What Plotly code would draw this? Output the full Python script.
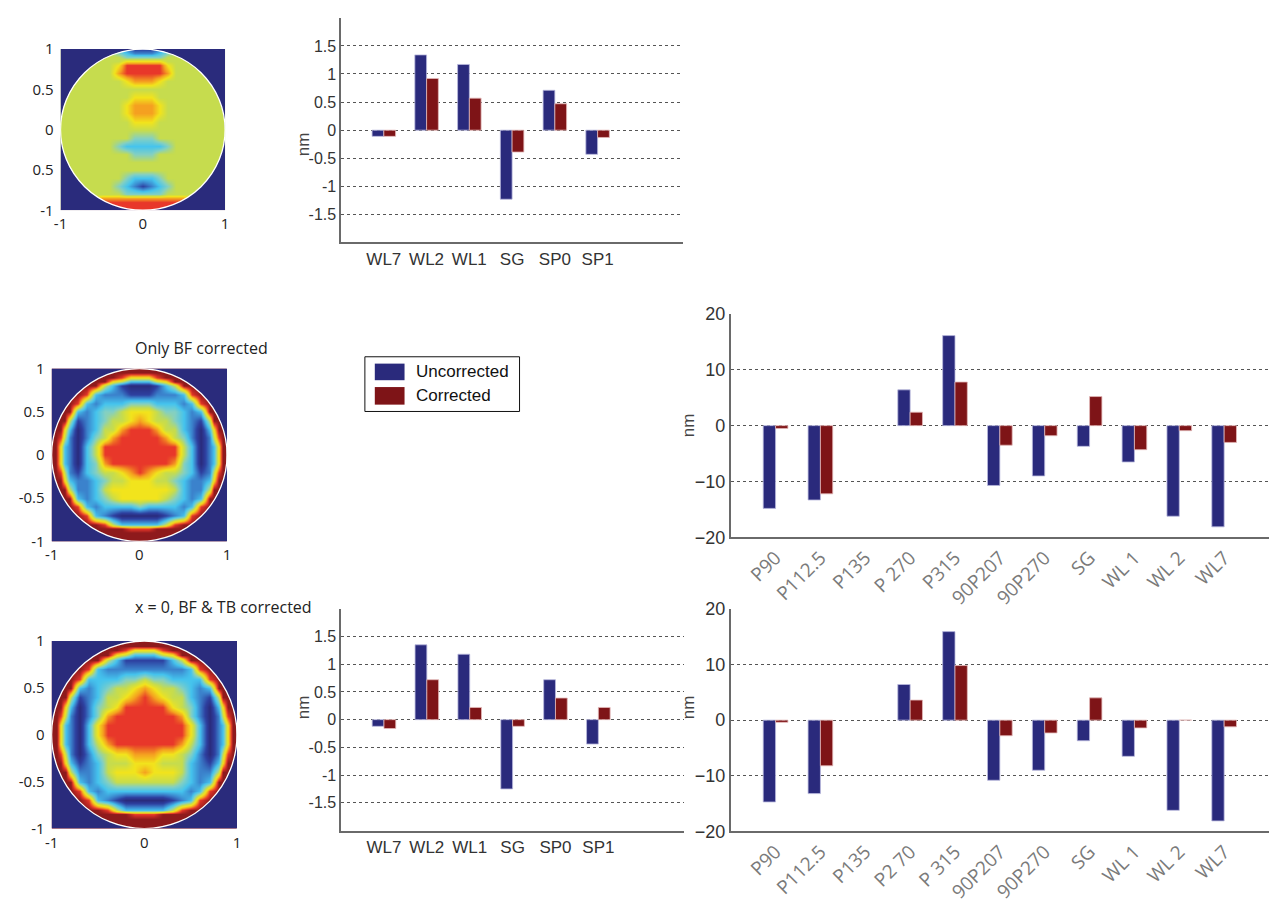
import plotly.graph_objects as go

W, H = 1274, 904

# ---------------- data ----------------
small_cats = ["WL7", "WL2", "WL1", "SG", "SP0", "SP1"]
top_uncorrected = [-0.11, 1.34, 1.17, -1.23, 0.71, -0.43]
top_corrected = [-0.11, 0.92, 0.57, -0.39, 0.47, -0.13]
mid_uncorrected = [-0.12, 1.35, 1.18, -1.25, 0.72, -0.44]
mid_corrected = [-0.16, 0.72, 0.22, -0.12, 0.39, 0.22]

big_labels_top = ["P90", "P112.5", "P135", "P 270", "P315", "90P207", "90P270", "SG", "WL 1", "WL 2", "WL7"]
big_labels_bot = ["P90", "P112.5", "P135", "P2 70", "P 315", "90P207", "90P270", "SG", "WL 1", "WL 2", "WL7"]
rt_uncorrected = [-14.8, -13.3, None, 6.4, 16.1, -10.7, -9.0, -3.7, -6.5, -16.2, -18.1]
rt_corrected = [-0.5, -12.2, None, 2.4, 7.8, -3.5, -1.8, 5.2, -4.3, -0.9, -3.0]
rb_uncorrected = [-14.7, -13.2, None, 6.4, 15.9, -10.8, -9.0, -3.7, -6.5, -16.2, -18.1]
rb_corrected = [-0.4, -8.2, None, 3.6, 9.8, -2.8, -2.3, 4.0, -1.4, 0.0, -1.2]

small_ticks = [-1.5, -1, -0.5, 0, 0.5, 1, 1.5]
small_ticktext = ["-1.5", "-1", "-0.5", "0", "0.5", "1", "1.5"]
big_ticks = [-20, -10, 0, 10, 20]

# wavefront maps on a coarse grid (denser near the rim);
# rows go from y = 1 (top) to y = -1 (bottom); level 0 (navy) .. 9 (dark red)
grid_coords = [-1, -0.95, -0.9, -0.85, -0.8, -0.7, -0.6, -0.5, -0.4, -0.3, -0.2, -0.1, 0,
               0.1, 0.2, 0.3, 0.4, 0.5, 0.6, 0.7, 0.8, 0.85, 0.9, 0.95, 1]
map1_rows = [
    "55555 5554321 1 1234555 55555",
    "55555 5555432 2 2345555 55555",
    "55555 5555544 4 4455555 55555",
    "55555 5555566 6 6655555 55555",
    "55555 5555688 8 8865555 55555",
    "55555 5555788 8 8875555 55555",
    "55555 5555567 7 7655555 55555",
    "55555 5555555 5 5555555 55555",
    "55555 5555556 6 6555555 55555",
    "55555 5555567 7 7655555 55555",
    "55555 5555567 7 7655555 55555",
    "55555 5555556 6 6555555 55555",
    "55555 5555555 5 5555555 55555",
    "55555 5555554 4 4555555 55555",
    "55555 5555433 3 3345555 55555",
    "55555 5555554 4 4555555 55555",
    "55555 5555555 5 5555555 55555",
    "55555 5555555 5 5555555 55555",
    "55555 5555543 3 3455555 55555",
    "55555 5555432 1 2345555 55555",
    "55555 5555544 4 4455555 55555",
    "55555 5577777 7 7777755 55555",
    "55555 8888888 8 8888888 55555",
    "55555 8888888 8 8888888 55555",
    "88888 8888888 8 8888888 88888",
]
map2_rows = [
    "99999 9999999 9 9999999 99999",
    "99999 9999999 9 9999999 99999",
    "99999 9999986 6 6899999 99999",
    "99999 9999653 3 3569999 99999",
    "99999 9995310 0 0135999 99999",
    "99999 9832221 1 1222389 99999",
    "99999 8323334 4 4333238 99999",
    "99999 3234456 6 6544323 99999",
    "99995 1234556 7 6554321 59999",
    "99963 0235578 8 8755320 36999",
    "99852 0245788 8 8875420 25899",
    "99632 0358888 8 8888530 23699",
    "99632 0358888 8 8888530 23699",
    "99632 0347888 8 8887430 23699",
    "99852 1345567 8 7655431 25899",
    "99963 2234556 6 6554322 36999",
    "99995 2235666 6 6665322 59999",
    "99999 3234566 6 6654323 99999",
    "99999 8323333 4 3333238 99999",
    "99999 9832100 0 0012389 99999",
    "99999 9998533 3 3358999 99999",
    "99999 9999998 8 8999999 99999",
    "99999 9999999 9 9999999 99999",
    "99999 9999999 9 9999999 99999",
    "99999 9999999 9 9999999 99999",
]
map3_rows = [
    "99999 9999999 9 9999999 99999",
    "99999 9999999 9 9999999 99999",
    "99999 9999986 6 6899999 99999",
    "99999 9999653 3 3569999 99999",
    "99999 9995311 1 1135999 99999",
    "99999 9832222 2 2222389 99999",
    "99999 8333344 5 4433338 99999",
    "99999 3234556 7 6554323 99999",
    "99995 1235567 8 7655321 59999",
    "99963 0245688 8 8865420 36999",
    "99852 0247888 8 8887420 25899",
    "99632 0368888 8 8888630 23699",
    "99632 0368888 8 8888630 23699",
    "99632 0357888 8 8887530 23699",
    "99852 0245667 7 7665420 25899",
    "99963 1235556 6 6555321 36999",
    "99995 2235666 7 6665322 59999",
    "99999 3234555 5 5554323 99999",
    "99999 8323333 3 3333238 99999",
    "99999 9832100 0 0012389 99999",
    "99999 9998533 3 3358999 99999",
    "99999 9999998 8 8999999 99999",
    "99999 9999999 9 9999999 99999",
    "99999 9999999 9 9999999 99999",
    "99999 9999999 9 9999999 99999",
]

BLUE = "#2a2a7c"
RED = "#7e1417"
NAVY = "#2a2b7c"
jet = [[0, "#2a2b7c"], [1/9, "#2e40a0"], [2/9, "#3b82cc"], [3/9, "#45c4ee"],
       [4/9, "#84d0c2"], [5/9, "#c6dc4e"], [6/9, "#f2e41c"], [7/9, "#f5a020"],
       [8/9, "#e8372a"], [1, "#8e1a1c"]]


def parse(rows):
    z = [[int(c) for c in r.replace(" ", "")] for r in rows]
    return z[::-1]  # ascending y


def fx(x):
    return min(1.0, max(0.0, x / W))


def fy(y):
    return min(1.0, max(0.0, 1 - y / H))


def dom(x0, x1, y0, y1):
    return [fx(x0), fx(x1)], [fy(y1), fy(y0)]


fig = go.Figure()
layout = dict(width=W, height=H, margin=dict(l=0, r=0, t=0, b=0, pad=0), autosize=False,
              paper_bgcolor="white", plot_bgcolor="white", showlegend=False,
              barmode="group", bargap=0.45, bargroupgap=0)

shapes = []
annotations = []

# ---------------- heatmaps ----------------
hm_boxes = [(54, 220, 39, 204), (45, 222, 366, 543), (45, 232, 645, 837)]
hm_rows = [map1_rows, map2_rows, map3_rows]
hm_ylabels = [["-1", "0.5", "0", "0.5", "1"], ["-1", "-0.5", "0", "0.5", "1"], ["-1", "-0.5", "0", "0.5", "1"]]
k = 0.5523
circle_path = (f"M 1,0 C 1,{k} {k},1 0,1 C {-k},1 -1,{k} -1,0 "
               f"C -1,{-k} {-k},-1 0,-1 C {k},-1 1,{-k} 1,0 Z")
mask_path = "M -1,-1 L 1,-1 L 1,1 L -1,1 Z " + circle_path
tickfont_hm = dict(family="Open Sans", size=15, color="#222")
for i, (box, rows, ylab) in enumerate(zip(hm_boxes, hm_rows, hm_ylabels), start=1):
    xd, yd = dom(*box)
    ax = "" if i == 1 else str(i)
    fig.add_trace(go.Heatmap(z=parse(rows), x=grid_coords, y=grid_coords, zmin=0, zmax=9,
                             colorscale=jet, zsmooth="best", showscale=False, hoverinfo="skip",
                             xaxis="x" + ax, yaxis="y" + ax))
    layout["xaxis" + ax] = dict(domain=xd, anchor="y" + ax, range=[-1, 1], tickvals=[-1, 0, 1],
                                ticktext=["-1", "0", "1"], showgrid=False, zeroline=False,
                                showline=False, ticks="", tickfont=tickfont_hm, fixedrange=True,
                                ticklabelstandoff=3)
    layout["yaxis" + ax] = dict(domain=yd, anchor="x" + ax, range=[-1, 1],
                                tickvals=[-1, -0.5, 0, 0.5, 1], ticktext=ylab, showgrid=False,
                                zeroline=False, showline=False, ticks="", tickfont=tickfont_hm,
                                fixedrange=True, ticklabelstandoff=6)
    shapes.append(dict(type="path", path=mask_path, xref="x" + ax, yref="y" + ax,
                       fillcolor=NAVY, fillrule="evenodd", line=dict(width=0), layer="above"))
    shapes.append(dict(type="circle", x0=-1, y0=-1, x1=1, y1=1, xref="x" + ax, yref="y" + ax,
                       line=dict(color="white", width=1.3), layer="above"))

annotations.append(dict(text="Only BF corrected", x=fx(127), y=fy(345), xref="paper",
                        yref="paper", showarrow=False, font=dict(family="Open Sans", size=16, color="#222")))
annotations.append(dict(text="x = 0, BF & TB corrected", x=fx(127), y=fy(623), xref="paper",
                        yref="paper", showarrow=False, font=dict(family="Open Sans", size=16, color="#222")))

# ---------------- bar charts ----------------
grid_common = dict(showgrid=True, gridcolor="#555", griddash="3px,3px", gridwidth=1,
                   zeroline=False, showline=True, linecolor="#6a6a6a", linewidth=1.5,
                   ticks="", fixedrange=True)

small_pos = list(range(1, len(small_cats) + 1))
big_pos = list(range(1, len(big_labels_top) + 1))

bar_sets = [
    ("4", (337, 682, 7, 237), small_pos, top_uncorrected, top_corrected, "small", small_cats),
    ("5", (337, 683, 612, 839), small_pos, mid_uncorrected, mid_corrected, "small", small_cats),
    ("6", (730, 1273, 310, 539), big_pos, rt_uncorrected, rt_corrected, "big", big_labels_top),
    ("7", (730, 1273, 612, 840), big_pos, rb_uncorrected, rb_corrected, "big", big_labels_bot),
]
for ax, box, pos, unc, cor, kind, labels in bar_sets:
    xd, yd = dom(*box)
    fig.add_trace(go.Bar(x=pos, y=unc, marker=dict(color=BLUE, line=dict(color="#b9b9dd", width=0.8)),
                         xaxis="x" + ax, yaxis="y" + ax, name="Uncorrected", hoverinfo="skip"))
    fig.add_trace(go.Bar(x=pos, y=cor, marker=dict(color=RED, line=dict(color="#e3b9b9", width=0.8)),
                         xaxis="x" + ax, yaxis="y" + ax, name="Corrected", hoverinfo="skip"))
    if kind == "small":
        layout["xaxis" + ax] = dict(domain=xd, anchor="y" + ax, range=[0, 8], tickvals=pos,
                                    ticktext=labels, showgrid=False, zeroline=False, showline=True,
                                    linecolor="#6a6a6a", linewidth=1.5, ticks="", fixedrange=True,
                                    tickfont=dict(family="Liberation Sans", size=17, color="#333"))
        layout["yaxis" + ax] = dict(domain=yd, anchor="x" + ax, range=[-2, 2], tickvals=small_ticks,
                                    ticktext=small_ticktext,
                                    tickfont=dict(family="Liberation Sans", size=16, color="#333"),
                                    **grid_common)
    else:
        layout["xaxis" + ax] = dict(domain=xd, anchor="y" + ax, range=[0, 12], tickvals=pos,
                                    ticktext=labels, showgrid=False, zeroline=False, showline=True,
                                    linecolor="#6a6a6a", linewidth=1.5, ticks="", fixedrange=True,
                                    tickangle=-45,
                                    tickfont=dict(family="Open Sans", size=19, color="#7a7a7a"))
        layout["yaxis" + ax] = dict(domain=yd, anchor="x" + ax, range=[-20, 20], tickvals=big_ticks,
                                    tickfont=dict(family="Liberation Sans", size=18, color="#333"),
                                    **grid_common)

for (x, y) in [(287, 122), (287, 727), (687, 424), (687, 727)]:
    annotations.append(dict(text="nm", x=fx(x), y=fy(y), xref="paper", yref="paper",
                            showarrow=False, textangle=-90,
                            font=dict(family="Liberation Sans", size=17, color="#444")))

# ---------------- legend (drawn) ----------------
def prect(x0, y0, x1, y1, **kw):
    return dict(type="rect", xref="paper", yref="paper", x0=fx(x0), x1=fx(x1),
                y0=fy(y1), y1=fy(y0), **kw)

shapes.append(prect(361, 354, 517, 410, line=dict(color="#111", width=1), fillcolor="white"))
shapes.append(prect(371, 361, 401, 378, line=dict(width=0), fillcolor=BLUE))
shapes.append(prect(371, 385, 401, 403, line=dict(width=0), fillcolor=RED))
for txt, y in [("Uncorrected", 369), ("Corrected", 394)]:
    annotations.append(dict(text=txt, x=fx(411), y=fy(y), xref="paper", yref="paper",
                            xanchor="left", showarrow=False,
                            font=dict(family="Liberation Sans", size=17, color="#111")))

layout["shapes"] = shapes
layout["annotations"] = annotations
fig.update_layout(**layout)
fig.write_html("out.html")
